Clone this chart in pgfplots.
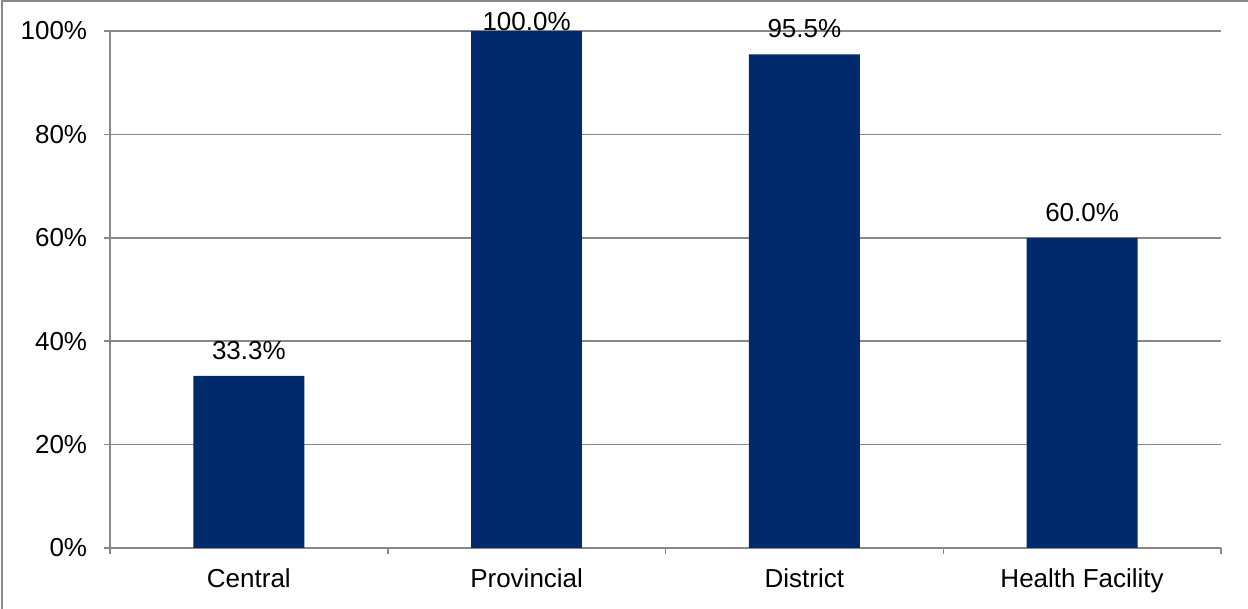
\documentclass[border=0pt]{standalone}
\usepackage{pgfplots}
\pgfplotsset{compat=1.18}
\usepackage{fontspec}
\setmainfont{Liberation Sans}
\definecolor{barblue}{HTML}{002A6C}
\definecolor{gridgray}{HTML}{888888}
\begin{document}
\begin{tikzpicture}[x=1pt,y=1pt]
\useasboundingbox (0,0) rectangle (748.8,365.4);
\draw[gridgray, line width=0.9pt] (1.2,0) -- (1.2,364.8) -- (748.8,364.8);
\begin{axis}[
 at={(66pt,36.6pt)}, anchor=south west,
 scale only axis, width=666.6pt, height=310.2pt,
 xmin=-0.5, xmax=3.5, ymin=0, ymax=100,
 axis x line*=bottom, axis y line*=left,
 axis line style={gridgray, line width=0.9pt, -},
 ytick={0,20,...,100},
 yticklabel={\pgfmathprintnumber{\tick}\%},
 ymajorgrids, grid style={gridgray, line width=0.9pt},
 xtick={0,1,2,3}, xticklabels={Central,Provincial,District,Health Facility},
 minor xtick={-0.5,0.5,1.5,2.5,3.5},
 major x tick style={draw=none},
 tick align=outside, major tick length=3.6pt, minor tick length=3.6pt,
 tick style={gridgray, line width=0.9pt},
 tick label style={font=\fontsize{15.6}{18}\selectfont},
 yticklabel style={xshift=-6.6pt},
 xticklabel style={yshift=-5.4pt},
 /pgf/number format/assume math mode=true,
 clip=false,
 nodes near coords={\pgfmathprintnumber[fixed,fixed zerofill,precision=1]{\pgfplotspointmeta}\%},
]
\addplot[ybar, bar width=66.6pt, fill=barblue, draw=none,
  every node near coord/.style={anchor=center, yshift=15.4pt, font=\fontsize{15.6}{18}\selectfont, text=black}]
  coordinates {(0,33.3) (2,95.5) (3,60.0)};
\addplot[ybar, bar width=66.6pt, fill=barblue, draw=none,
  every node near coord/.style={anchor=center, yshift=5.4pt, font=\fontsize{15.6}{18}\selectfont, text=black}]
  coordinates {(1,100.0)};
\end{axis}
\end{tikzpicture}
\end{document}
